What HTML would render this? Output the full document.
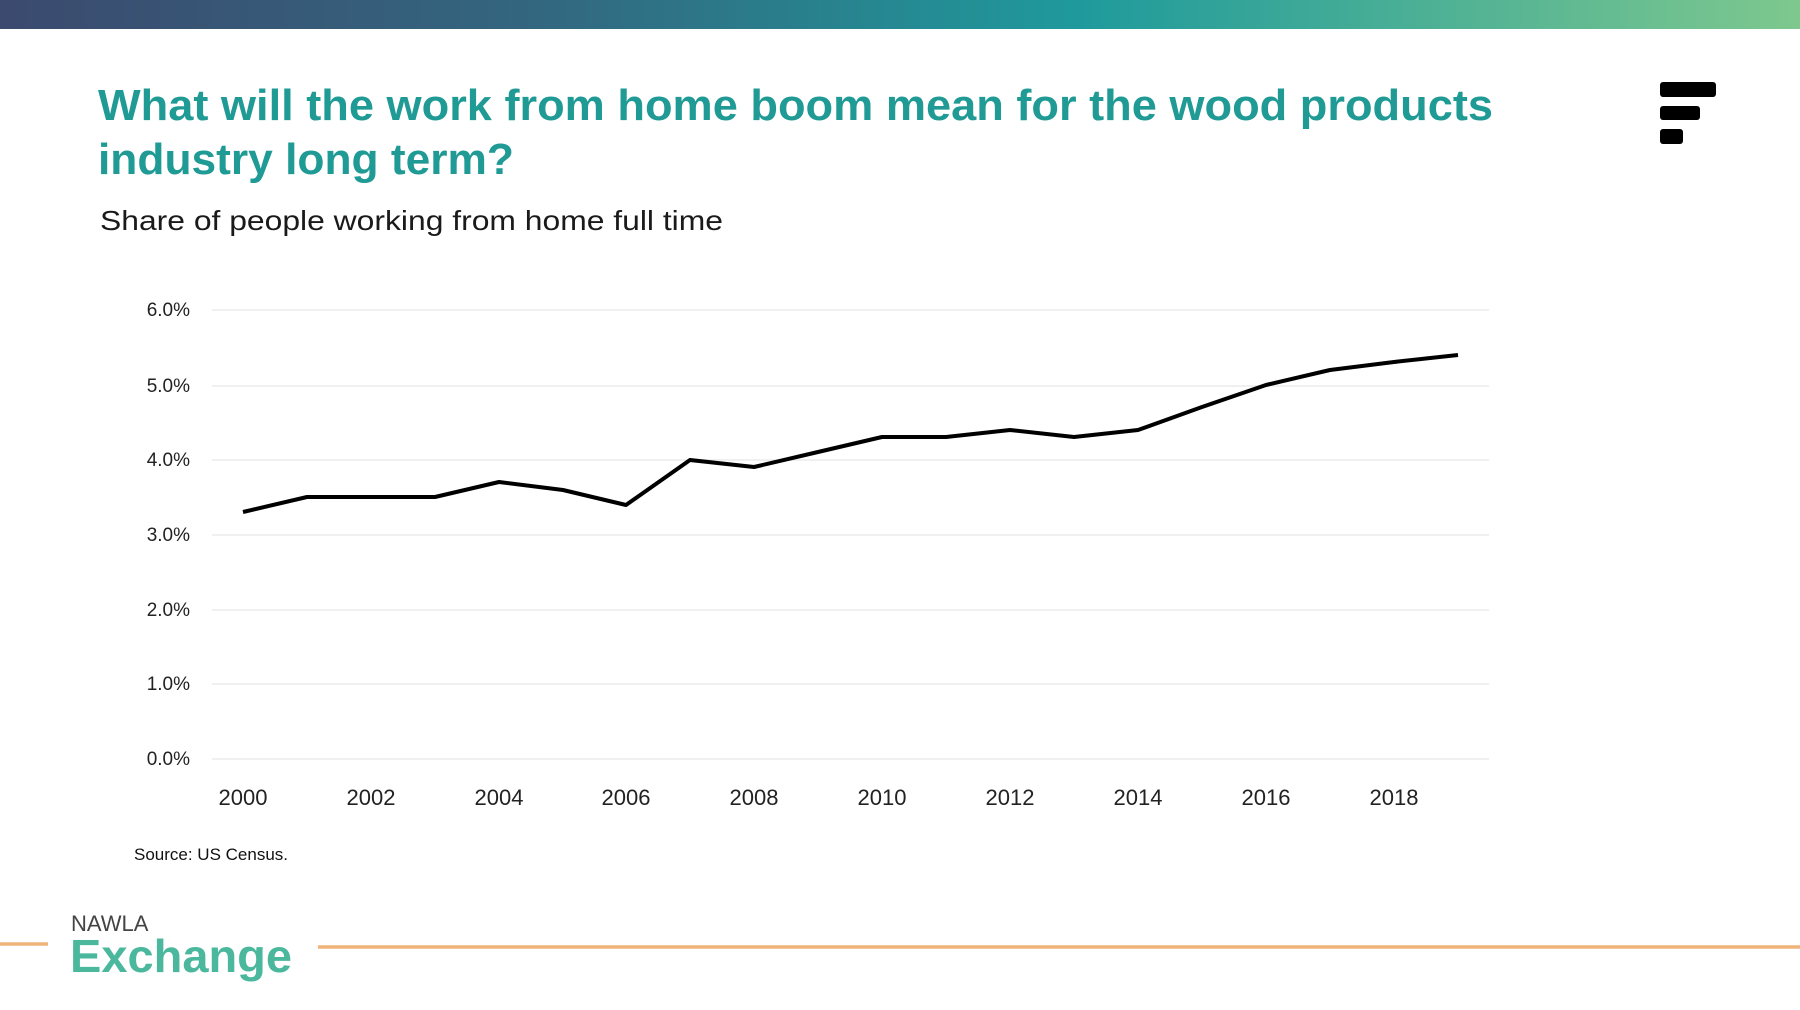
<!DOCTYPE html>
<html><head><meta charset="utf-8"><style>
html,body{margin:0;padding:0;background:#fff;}
svg{display:block;}
</style></head><body>
<svg width="1800" height="1010" viewBox="0 0 1800 1010" xmlns="http://www.w3.org/2000/svg">
<defs>
<linearGradient id="g" x1="0" x2="1" y1="0" y2="0">
<stop offset="0" stop-color="#3b4a6e"/>
<stop offset="0.3" stop-color="#33677f"/>
<stop offset="0.6" stop-color="#1f9a9c"/>
<stop offset="1" stop-color="#7ec88e"/>
</linearGradient>
</defs>
<rect x="0" y="0" width="1800" height="29" fill="url(#g)"/>
<g font-family="Liberation Sans, sans-serif">
<text x="98" y="120" font-size="44" font-weight="bold" fill="#1f9a94" textLength="1395" lengthAdjust="spacingAndGlyphs">What will the work from home boom mean for the wood products</text>
<text x="98" y="174" font-size="44" font-weight="bold" fill="#1f9a94" textLength="416" lengthAdjust="spacingAndGlyphs">industry long term?</text>
<text x="100" y="230" font-size="28" fill="#1a1a1a" textLength="623" lengthAdjust="spacingAndGlyphs">Share of people working from home full time</text>
</g>
<rect x="1660" y="82" width="56" height="15" rx="3" fill="#000"/>
<rect x="1660" y="106" width="40" height="14" rx="3" fill="#000"/>
<rect x="1660" y="129" width="23" height="15" rx="3" fill="#000"/>
<g stroke="#ebebeb" stroke-width="1.5">
<line x1="212" x2="1489" y1="310" y2="310"/>
<line x1="212" x2="1489" y1="386" y2="386"/>
<line x1="212" x2="1489" y1="460" y2="460"/>
<line x1="212" x2="1489" y1="535" y2="535"/>
<line x1="212" x2="1489" y1="610" y2="610"/>
<line x1="212" x2="1489" y1="684" y2="684"/>
<line x1="212" x2="1489" y1="759" y2="759"/>
</g>
<g font-family="Liberation Sans, sans-serif" font-size="19" fill="#222" text-anchor="end">
<text x="190" y="316">6.0%</text>
<text x="190" y="392">5.0%</text>
<text x="190" y="466">4.0%</text>
<text x="190" y="541">3.0%</text>
<text x="190" y="616">2.0%</text>
<text x="190" y="690">1.0%</text>
<text x="190" y="765">0.0%</text>
</g>
<g font-family="Liberation Sans, sans-serif" font-size="22" fill="#222" text-anchor="middle">
<text x="243" y="805">2000</text>
<text x="371" y="805">2002</text>
<text x="499" y="805">2004</text>
<text x="626" y="805">2006</text>
<text x="754" y="805">2008</text>
<text x="882" y="805">2010</text>
<text x="1010" y="805">2012</text>
<text x="1138" y="805">2014</text>
<text x="1266" y="805">2016</text>
<text x="1394" y="805">2018</text>
</g>
<polyline fill="none" stroke="#000" stroke-width="4" stroke-linejoin="round" points="243,512 307,497 371,497 435,497 499,482 563,490 626,505 690,460 754,467 818,452 882,437 946,437 1010,430 1074,437 1138,430 1202,407 1266,385 1330,370 1394,362 1458,355"/>
<text x="134" y="860" font-family="Liberation Sans, sans-serif" font-size="17" fill="#111">Source: US Census.</text>
<line x1="0" x2="48" y1="944" y2="944" stroke="#f0b47a" stroke-width="3.5"/>
<line x1="318" x2="1800" y1="947" y2="947" stroke="#f0b47a" stroke-width="3.5"/>
<text x="71" y="931" font-family="Liberation Sans, sans-serif" font-size="22" fill="#444">NAWLA</text>
<text x="70" y="972" font-family="Liberation Sans, sans-serif" font-size="46" font-weight="bold" fill="#4bb89d" textLength="222" lengthAdjust="spacingAndGlyphs">Exchange</text>
</svg>
</body></html>
